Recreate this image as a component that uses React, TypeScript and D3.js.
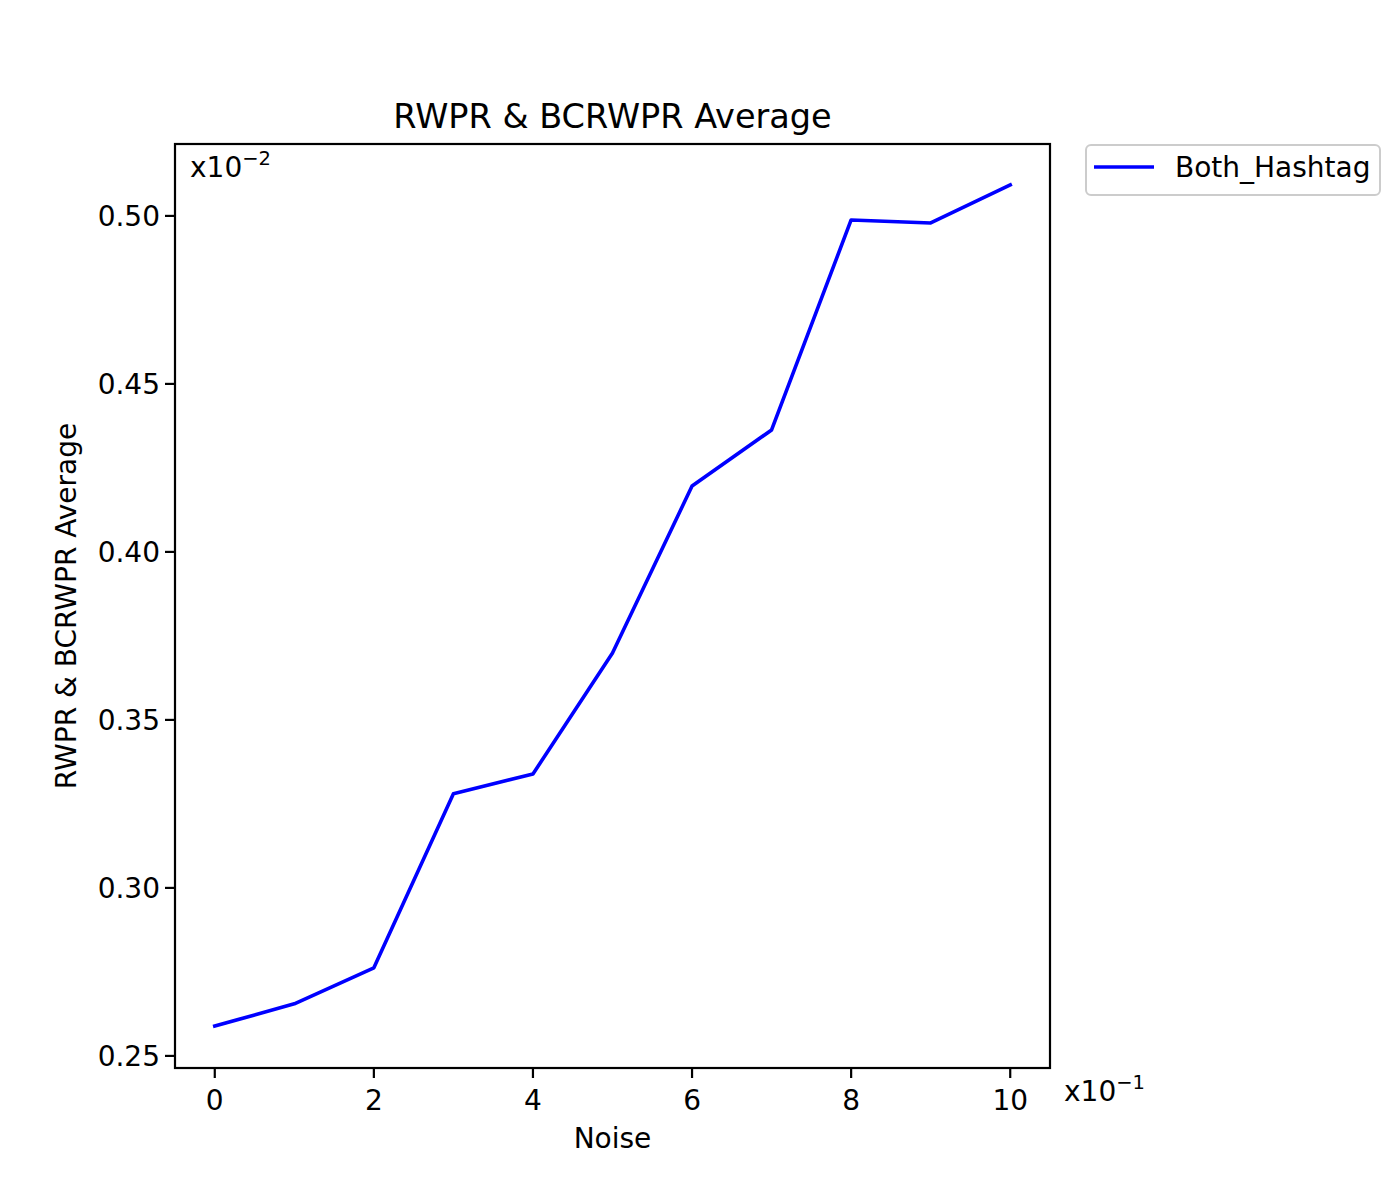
import React from 'react';
import * as d3 from 'd3';

const noise = [0, 1, 2, 3, 4, 5, 6, 7, 8, 9, 10];
const bothHashtag = [0.2589, 0.2655, 0.2762, 0.328, 0.3339, 0.3699, 0.4196, 0.4363, 0.4988, 0.4979, 0.5092];
const xTicks = [0, 2, 4, 6, 8, 10];
const yTicks = [0.25, 0.3, 0.35, 0.4, 0.45, 0.5];

const W = 1400;
const H = 1200;
const m = { left: 175, right: 1050, top: 144, bottom: 1068 };
const font = 'DejaVu Sans, sans-serif';

export default function App() {
  const x = d3.scaleLinear().domain([-0.5, 10.5]).range([m.left, m.right]);
  const y = d3.scaleLinear().domain([0.2464, 0.5214]).range([m.bottom, m.top]);
  const pts = noise.map((n, i) => [n, bothHashtag[i]] as [number, number]);
  const line = d3.line<[number, number]>().x(d => x(d[0])).y(d => y(d[1]));
  const cx = (m.left + m.right) / 2;
  const cy = (m.top + m.bottom) / 2;

  return (
    <svg width={W} height={H} style={{ position: 'absolute', left: 0, top: 0, background: '#fff' }} fontFamily={font}>
      <rect width={W} height={H} fill="#fff" />
      <text x={cx} y={128} textAnchor="middle" fontSize={33.5}>RWPR &amp; BCRWPR Average</text>

      <path d={line(pts)!} fill="none" stroke="#0000ff" strokeWidth={3.6} strokeLinejoin="round" strokeLinecap="square" />

      <rect x={m.left} y={m.top} width={m.right - m.left} height={m.bottom - m.top} fill="none" stroke="#000" strokeWidth={2.2} />

      {xTicks.map(t => (
        <g key={t}>
          <line x1={x(t)} x2={x(t)} y1={m.bottom} y2={m.bottom + 10} stroke="#000" strokeWidth={2.2} />
          <text x={x(t)} y={m.bottom + 42} textAnchor="middle" fontSize={28}>{t}</text>
        </g>
      ))}
      {yTicks.map(t => (
        <g key={t}>
          <line x1={m.left - 10} x2={m.left} y1={y(t)} y2={y(t)} stroke="#000" strokeWidth={2.2} />
          <text x={m.left - 15} y={y(t) + 10} textAnchor="end" fontSize={28}>{d3.format('.2f')(t)}</text>
        </g>
      ))}

      <text x={cx} y={1148} textAnchor="middle" fontSize={28}>Noise</text>
      <text transform={`translate(76,${cy}) rotate(-90)`} textAnchor="middle" fontSize={28}>RWPR &amp; BCRWPR Average</text>

      <text x={190} y={177} fontSize={28}>x10<tspan fontSize={19.5} dy={-12}>−2</tspan></text>
      <text x={1064} y={1101} fontSize={28}>x10<tspan fontSize={19.5} dy={-12}>−1</tspan></text>

      <rect x={1086} y={145} width={294} height={50} rx={5} fill="#fff" stroke="#cccccc" strokeWidth={2} />
      <line x1={1094} x2={1154} y1={167} y2={167} stroke="#0000ff" strokeWidth={3.6} />
      <text x={1175} y={177} fontSize={28}>Both_Hashtag</text>
    </svg>
  );
}
